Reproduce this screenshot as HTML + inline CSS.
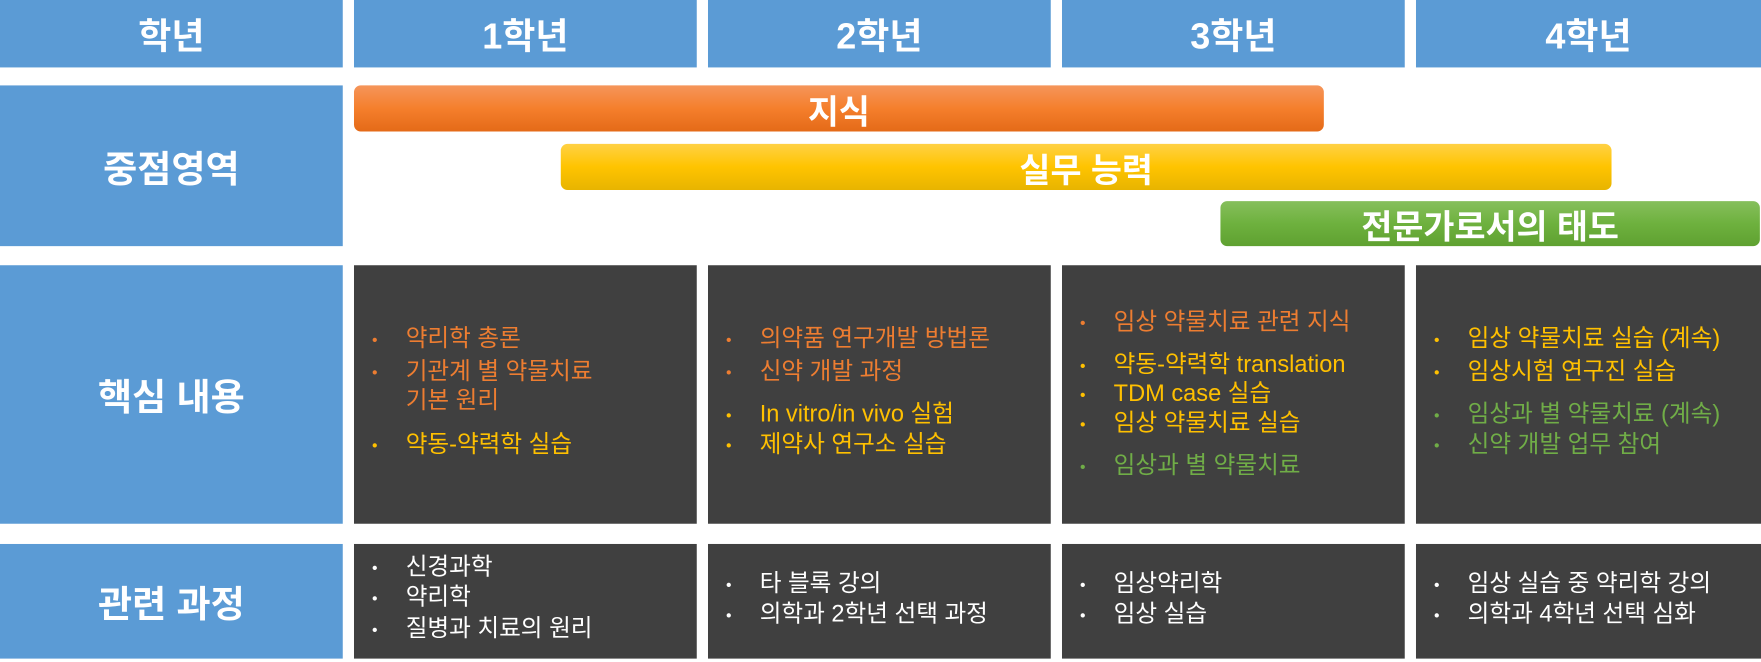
<!DOCTYPE html>
<html><head><meta charset="utf-8"><style>
html,body{margin:0;padding:0;background:#fff;width:1761px;height:662px;overflow:hidden}
#wrap{position:absolute;left:0;top:0;width:1567px;height:589px;transform:scale(1.1238,1.1239);transform-origin:0 0;font-family:"Liberation Sans","Noto Sans CJK KR",sans-serif}
.b{position:absolute;background:#5b9bd5;color:#fff;font-weight:bold;display:flex;align-items:center;justify-content:center;font-size:32px}
.lab{font-size:33px}
.d{position:absolute;background:#404040}
.bar{position:absolute;border-radius:6px;color:#fff;font-weight:bold;font-size:30px;display:flex;align-items:center;justify-content:center}
.l{position:absolute;font-size:21px;line-height:26px;white-space:nowrap}
.l::before{content:"•";position:absolute;left:-30px;font-size:14px}
.nb::before{content:""}
.o{color:#ed7d31}.y{color:#ffc000}.g{color:#70ad47}.w{color:#fff}
</style></head><body>
<div id="wrap">
<div class="b" style="left:0;top:0;width:305px;height:60px">학년</div>
<div class="b" style="left:315px;top:0;width:305px;height:60px">1학년</div>
<div class="b" style="left:630px;top:0;width:305px;height:60px">2학년</div>
<div class="b" style="left:945px;top:0;width:305px;height:60px">3학년</div>
<div class="b" style="left:1260px;top:0;width:307px;height:60px">4학년</div>

<div class="b lab" style="left:0;top:76px;width:305px;height:143px">중점영역</div>
<div class="bar" style="left:315px;top:76px;width:863px;height:41px;background:linear-gradient(#f5955a,#f57f2c 50%,#e46a18)">지식</div>
<div class="bar" style="left:499px;top:128px;width:935px;height:41px;background:linear-gradient(#ffd145,#ffc400 50%,#e8b400)">실무 능력</div>
<div class="bar" style="left:1086px;top:179px;width:480px;height:40px;background:linear-gradient(#86bf5c,#6eb13e 50%,#5fa131)">전문가로서의 태도</div>

<div class="b lab" style="left:0;top:236px;width:305px;height:230px">핵심 내용</div>
<div class="d" style="left:315px;top:236px;width:305px;height:230px"></div>
<div class="d" style="left:630px;top:236px;width:305px;height:230px"></div>
<div class="d" style="left:945px;top:236px;width:305px;height:230px"></div>
<div class="d" style="left:1260px;top:236px;width:307px;height:230px"></div>

<div class="b lab" style="left:0;top:484px;width:305px;height:102px">관련 과정</div>
<div class="d" style="left:315px;top:484px;width:305px;height:102px"></div>
<div class="d" style="left:630px;top:484px;width:305px;height:102px"></div>
<div class="d" style="left:945px;top:484px;width:305px;height:102px"></div>
<div class="d" style="left:1260px;top:484px;width:307px;height:102px"></div>

<div class="l o" style="left:361px;top:289px">약리학 총론</div>
<div class="l o" style="left:361px;top:318px">기관계 별 약물치료</div>
<div class="l o nb" style="left:361px;top:344px">기본 원리</div>
<div class="l y" style="left:361px;top:383px">약동-약력학 실습</div>

<div class="l o" style="left:676px;top:289px">의약품 연구개발 방법론</div>
<div class="l o" style="left:676px;top:318px">신약 개발 과정</div>
<div class="l y" style="left:676px;top:356px">In vitro/in vivo 실험</div>
<div class="l y" style="left:676px;top:383px">제약사 연구소 실습</div>

<div class="l o" style="left:991px;top:274px">임상 약물치료 관련 지식</div>
<div class="l y" style="left:991px;top:312px">약동-약력학 translation</div>
<div class="l y" style="left:991px;top:338px">TDM case 실습</div>
<div class="l y" style="left:991px;top:364px">임상 약물치료 실습</div>
<div class="l g" style="left:991px;top:402px">임상과 별 약물치료</div>

<div class="l y" style="left:1306px;top:289px">임상 약물치료 실습 (계속)</div>
<div class="l y" style="left:1306px;top:318px">임상시험 연구진 실습</div>
<div class="l g" style="left:1306px;top:356px">임상과 별 약물치료 (계속)</div>
<div class="l g" style="left:1306px;top:383px">신약 개발 업무 참여</div>

<div class="l w" style="left:361px;top:492px">신경과학</div>
<div class="l w" style="left:361px;top:519px">약리학</div>
<div class="l w" style="left:361px;top:547px">질병과 치료의 원리</div>
<div class="l w" style="left:676px;top:507px">타 블록 강의</div>
<div class="l w" style="left:676px;top:534px">의학과 2학년 선택 과정</div>
<div class="l w" style="left:991px;top:507px">임상약리학</div>
<div class="l w" style="left:991px;top:534px">임상 실습</div>
<div class="l w" style="left:1306px;top:507px">임상 실습 중 약리학 강의</div>
<div class="l w" style="left:1306px;top:534px">의학과 4학년 선택 심화</div>
</div>
</body></html>
